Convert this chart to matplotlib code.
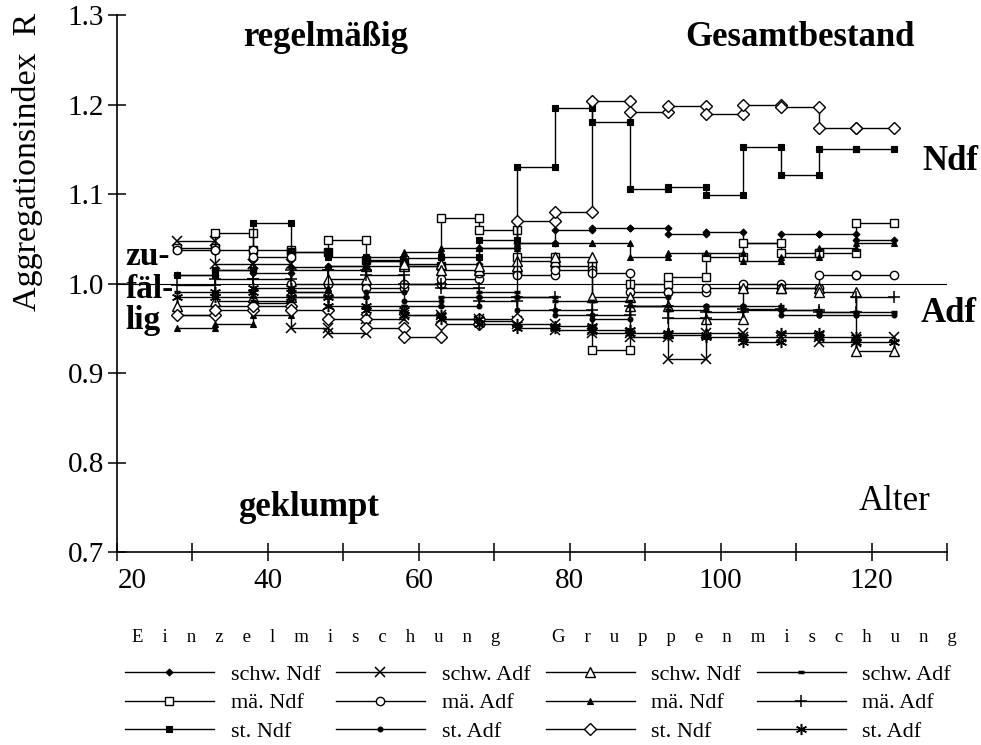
import numpy as np
import matplotlib
matplotlib.use("Agg")
import matplotlib.pyplot as plt
import matplotlib.transforms as mtransforms

plt.rcParams['font.family'] = ['Liberation Serif', 'DejaVu Serif']

# Altersstufen (Grenzen der 5-Jahres-Abschnitte)
ages = [28, 33, 38, 43, 48, 53, 58, 63, 68, 73, 78, 83, 88, 93, 98, 103, 108, 113, 118, 123]

# Aggregationsindex R je Abschnitt (19 Werte pro Reihe)
# Einzelmischung
e_schw_ndf = [1.010, 1.015, 1.012, 1.018, 1.020, 1.025, 1.028, 1.022, 1.040, 1.045,
              1.060, 1.062, 1.062, 1.055, 1.058, 1.045, 1.055, 1.055, 1.049]
e_schw_adf = [1.048, 1.022, 1.022, 0.950, 0.945, 0.960, 0.965, 0.960, 0.958, 0.955,
              0.948, 0.945, 0.940, 0.916, 0.945, 0.940, 0.940, 0.935, 0.940]
e_mae_ndf = [1.040, 1.056, 1.037, 1.035, 1.049, 1.026, 1.020, 1.073, 1.060, 1.030,
             1.020, 0.926, 1.000, 1.007, 1.030, 1.045, 1.034, 1.034, 1.068]
e_mae_adf = [1.037, 1.037, 1.030, 1.000, 1.000, 0.995, 1.000, 1.005, 1.012, 1.010,
             1.015, 1.012, 0.990, 0.990, 0.995, 1.000, 0.995, 1.010, 1.010]
e_st_ndf = [1.010, 1.015, 1.068, 1.035, 1.030, 1.025, 1.020, 1.030, 1.049, 1.130,
            1.196, 1.180, 1.106, 1.108, 1.099, 1.153, 1.121, 1.150, 1.150]
e_st_adf = [0.965, 0.975, 0.978, 0.985, 0.985, 0.990, 0.980, 0.975, 0.985, 0.970,
            0.965, 0.960, 0.985, 0.975, 0.975, 0.970, 0.965, 0.965, 0.965]
# Gruppenmischung
g_schw_ndf = [0.975, 0.980, 0.985, 0.990, 1.005, 1.020, 1.022, 1.015, 1.020, 1.025,
              1.030, 0.985, 0.975, 0.945, 0.960, 0.995, 0.995, 0.990, 0.925]
g_schw_adf = [0.990, 0.985, 0.980, 0.990, 0.985, 0.975, 0.975, 0.985, 0.990, 0.985,
              0.980, 0.980, 0.975, 0.970, 0.975, 0.975, 0.970, 0.968, 0.968]
g_mae_ndf = [0.950, 0.955, 0.965, 0.995, 1.020, 1.030, 1.035, 1.040, 1.040, 1.045,
             1.045, 1.045, 1.030, 1.034, 1.034, 1.025, 1.030, 1.040, 1.045]
g_mae_adf = [0.998, 1.005, 1.005, 1.015, 1.015, 1.010, 1.000, 0.995, 0.980, 0.985,
             0.970, 0.965, 0.975, 0.962, 0.968, 0.972, 0.970, 0.968, 0.985]
g_st_ndf = [0.965, 0.970, 0.975, 0.970, 0.960, 0.950, 0.940, 0.955, 0.960, 1.070,
            1.080, 1.204, 1.192, 1.198, 1.189, 1.200, 1.197, 1.174, 1.174]
g_st_adf = [0.985, 0.990, 0.995, 0.985, 0.975, 0.970, 0.965, 0.960, 0.955, 0.950,
            0.952, 0.948, 0.945, 0.942, 0.940, 0.935, 0.945, 0.940, 0.935]

labels = ["schw. Ndf", "mä. Ndf", "st. Ndf", "schw. Adf", "mä. Adf", "st. Adf",
          "schw. Ndf", "mä. Ndf", "st. Ndf", "schw. Adf", "mä. Adf", "st. Adf"]
series = [e_schw_ndf, e_mae_ndf, e_st_ndf, e_schw_adf, e_mae_adf, e_st_adf,
          g_schw_ndf, g_mae_ndf, g_st_ndf, g_schw_adf, g_mae_adf, g_st_adf]

# Markerstile
styles = [
    dict(marker='D', ms=3.5, mfc='k', mew=0.8),
    dict(marker='s', ms=6, mfc='white', mew=1.0),
    dict(marker='s', ms=5, mfc='k', mew=0.8),
    dict(marker='x', ms=7, mfc='k', mew=1.1),
    dict(marker='o', ms=6, mfc='white', mew=1.0),
    dict(marker='o', ms=3.5, mfc='k', mew=0.8),
    dict(marker='^', ms=7, mfc='white', mew=1.0),
    dict(marker='^', ms=4, mfc='k', mew=0.8),
    dict(marker='D', ms=6, mfc='white', mew=1.0),
    dict(marker='_', ms=5, mfc='k', mew=2.5),
    dict(marker='+', ms=9, mfc='k', mew=1.1),
    dict(marker=(6, 2, 0), ms=8, mfc='k', mew=1.1),
]

fig = plt.figure(figsize=(9.81, 7.45), dpi=100)
ax = fig.add_axes([117/981, 193/745, 830/981, 537/745])

ax.axhline(1.0, color='k', lw=0.8, zorder=1)

xs = np.repeat(ages, 2)[1:-1]
handles = []
for vals, st in zip(series, styles):
    ys = np.repeat(vals, 2)
    ln, = ax.plot(xs, ys, color='k', lw=1.0, mec='k', **st)
    handles.append(ln)

ax.set_xlim(20, 130)
ax.set_ylim(0.7, 1.3)
ax.spines['top'].set_visible(False)
ax.spines['right'].set_visible(False)
ax.spines['left'].set_linewidth(1.2)
ax.spines['bottom'].set_linewidth(1.2)

ax.set_xticks([20, 40, 60, 80, 100, 120])
ax.set_xticks([30, 50, 70, 90, 110, 130], minor=True)
ax.set_yticks([0.7, 0.8, 0.9, 1.0, 1.1, 1.2, 1.3])
ax.set_yticklabels(["0.7", "0.8", "0.9", "1.0", "1.1", "1.2", "1.3"])
ax.tick_params(axis='both', which='both', direction='inout', length=13, width=1.1,
               labelsize=21)
ax.tick_params(axis='x', which='both', pad=5)
ax.tick_params(axis='y', pad=3)

# "20" steht etwas rechts vom Teilstrich
lab20 = ax.get_xticklabels()[0]
lab20.set_transform(lab20.get_transform() +
                    mtransforms.ScaledTranslation(0.15, 0, fig.dpi_scale_trans))

fig.text(28/981, 1 - 162/745, "Aggregationsindex  R", rotation=90,
         ha='center', va='center', fontsize=24.5)

bold = dict(fontsize=25, fontweight='bold')
ax.text(47.6, 1.275, "regelmäßig", ha='center', va='center', **bold)
ax.text(110.5, 1.275, "Gesamtbestand", ha='center', va='center', **bold)
ax.text(45.4, 0.750, "geklumpt", ha='center', va='center', **bold)
ax.text(123.0, 0.756, "Alter", ha='center', va='center', fontsize=25)
ax.text(130.4, 1.136, "Ndf", ha='center', va='center', clip_on=False, **bold)
ax.text(130.2, 0.967, "Adf", ha='center', va='center', clip_on=False, **bold)
small_bold = dict(fontsize=24, fontweight='bold')
ax.text(21.1, 1.030, "zu-", ha='left', va='center', **small_bold)
ax.text(21.1, 0.993, "fäl-", ha='left', va='center', **small_bold)
ax.text(21.1, 0.959, "lig", ha='left', va='center', **small_bold)

fig.text(316/981, 1 - 638/745, "    ".join("Einzelmischung"), ha='center',
         va='center', fontsize=13.5)
fig.text(754/981, 1 - 638/745, "    ".join("Gruppenmischung"), ha='center',
         va='center', fontsize=13.5)

fig.legend(handles, labels, ncol=4, loc='upper left',
           bbox_to_anchor=(125/981, 1 - 664/745), frameon=False, fontsize=16,
           handlelength=4.0, handletextpad=0.75, columnspacing=0.7,
           labelspacing=0.37, borderpad=0, borderaxespad=0, numpoints=1)

fig.savefig("out.png", dpi=100)
